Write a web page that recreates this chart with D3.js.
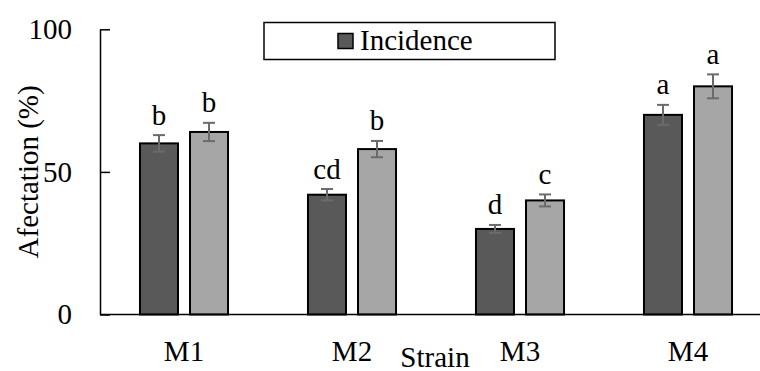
<!DOCTYPE html>
<html>
<head>
<meta charset="utf-8">
<script src="https://cdn.jsdelivr.net/npm/d3@7"></script>
<style>
  @font-face { font-family: "ChartSerif"; src: local("Liberation Serif"), local("LiberationSerif"), local("LiberationSerif-Regular"); }
  #vis text { font-family: "ChartSerif", "Liberation Serif", "Times New Roman", serif; }
</style>
</head>
<body style="margin:0">
<svg id="vis" width="760" height="371" font-family="Liberation Serif, serif"></svg>
<script>
var strains = ["M1", "M2", "M3", "M4"];
var seriesNames = ["Incidence", "Severity"];
var incidence = [60, 42, 30, 70];
var incidenceErr = [2.9, 2, 1.4, 3.5];
var incidenceLetters = ["b", "cd", "d", "a"];
var severity = [64, 58, 40, 80];
var severityErr = [3.2, 2.85, 2.1, 4.2];
var severityLetters = ["b", "b", "c", "a"];
var yTicks = [0, 50, 100];

var colors = ["#595959", "#a6a6a6"];

function addText(parent, str) {
  var t = parent.append("text")
    .attr("font-family", "Liberation Serif, serif")
    .attr("font-size", 29)
    .style("font-family", "'Liberation Serif', serif")
    .style("font-size", "29px")
    .attr("fill", "#000")
    .text(str);
  t.node().getComputedTextLength();
  return t;
}

var svg = d3.select("#vis");

var x0 = d3.scaleBand()
  .domain(strains)
  .range([100, 772])
  .paddingInner(0.464)
  .paddingOuter(0.232);

var x1 = d3.scaleBand()
  .domain(seriesNames)
  .range([0, x0.bandwidth()])
  .paddingInner(0.2);

var y = d3.scaleLinear().domain([0, 100]).range([314.5, 29.3]);

var rows = [];
strains.forEach(function(s, i) {
  rows.push({ strain: s, series: seriesNames[0], value: incidence[i], err: incidenceErr[i], letter: incidenceLetters[i], color: colors[0] });
  rows.push({ strain: s, series: seriesNames[1], value: severity[i], err: severityErr[i], letter: severityLetters[i], color: colors[1] });
});

function cx(d) { return x0(d.strain) + x1(d.series) + x1.bandwidth() / 2; }

// bars
svg.append("g").selectAll("rect")
  .data(rows)
  .enter().append("rect")
  .attr("x", function(d) { return x0(d.strain) + x1(d.series) + 1; })
  .attr("y", function(d) { return y(d.value); })
  .attr("width", x1.bandwidth() - 2)
  .attr("height", function(d) { return y(0) - y(d.value); })
  .attr("fill", function(d) { return d.color; })
  .attr("stroke", "#000")
  .attr("stroke-width", 2);

// error bars
var eb = svg.append("g")
  .attr("stroke", "#6b6b6b")
  .attr("stroke-width", 2)
  .selectAll("g")
  .data(rows)
  .enter().append("g")
  .attr("transform", function(d) { return "translate(" + cx(d) + ",0)"; });

eb.append("line")
  .attr("y1", function(d) { return y(d.value + d.err); })
  .attr("y2", function(d) { return y(d.value - d.err); });
eb.append("line")
  .attr("x1", -6).attr("x2", 6)
  .attr("y1", function(d) { return y(d.value + d.err); })
  .attr("y2", function(d) { return y(d.value + d.err); });
eb.append("line")
  .attr("x1", -6).attr("x2", 6)
  .attr("y1", function(d) { return y(d.value - d.err); })
  .attr("y2", function(d) { return y(d.value - d.err); });

// significance letters
var letterG = svg.append("g");
rows.forEach(function(d) {
  addText(letterG, d.letter)
    .attr("x", cx(d))
    .attr("y", y(d.value + d.err) - 10.5)
    .attr("text-anchor", "middle");
});

// y axis: line and inward ticks from d3, labels as own texts
var yAxis = svg.append("g")
  .attr("transform", "translate(100,0)")
  .call(d3.axisLeft(y).tickValues(yTicks).tickSizeInner(-10).tickSizeOuter(0).tickFormat(""));
yAxis.select(".domain").attr("stroke", "#000").attr("stroke-width", 1.5);
yAxis.selectAll(".tick line").attr("stroke", "#000").attr("stroke-width", 1.5);
yTicks.forEach(function(v) {
  addText(svg, String(v))
    .attr("x", 72)
    .attr("y", y(v))
    .attr("dy", "0.34em")
    .attr("text-anchor", "end");
});

// x axis baseline and category labels
svg.append("line")
  .attr("x1", 100).attr("x2", 760)
  .attr("y1", y(0)).attr("y2", y(0))
  .attr("stroke", "#000")
  .attr("stroke-width", 1.5);
strains.forEach(function(s) {
  addText(svg, s)
    .attr("x", x0(s) + x0.bandwidth() / 2)
    .attr("y", 361)
    .attr("text-anchor", "middle");
});

// axis titles
addText(svg, "Afectation (%)")
  .attr("transform", "translate(38," + ((y(0) + y(100)) / 2) + ") rotate(-90)")
  .attr("text-anchor", "middle");

addText(svg, "Strain")
  .attr("x", 435)
  .attr("y", 367)
  .attr("text-anchor", "middle");

// legend
var legend = svg.append("g");
legend.append("rect")
  .attr("x", 264).attr("y", 22.5)
  .attr("width", 291).attr("height", 37)
  .attr("fill", "#fff")
  .attr("stroke", "#000")
  .attr("stroke-width", 1.5);
legend.append("rect")
  .attr("x", 338).attr("y", 33.5)
  .attr("width", 15).attr("height", 15)
  .attr("fill", colors[0])
  .attr("stroke", "#000")
  .attr("stroke-width", 1.5);
addText(legend, seriesNames[0])
  .attr("x", 360)
  .attr("y", 50);
</script>
</body>
</html>
